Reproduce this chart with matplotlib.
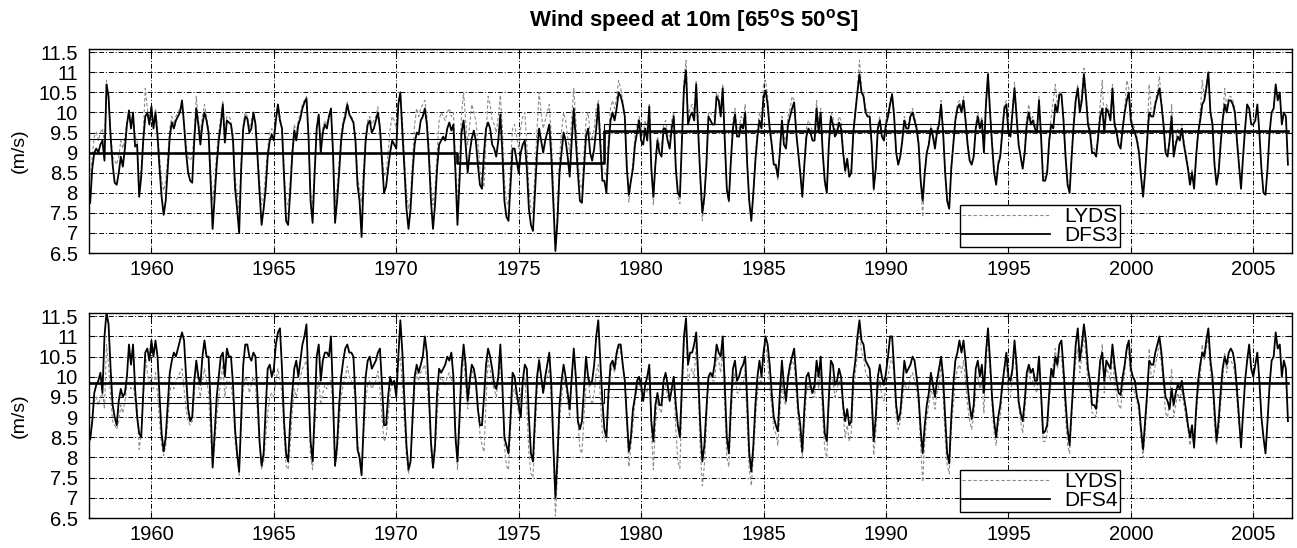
import matplotlib
matplotlib.use("Agg")
import matplotlib.pyplot as plt
import numpy as np

plt.rcParams['font.family'] = ['Liberation Sans', 'DejaVu Sans']
plt.rcParams['mathtext.fontset'] = 'custom'
plt.rcParams['mathtext.rm'] = 'Liberation Sans'
plt.rcParams['mathtext.bf'] = 'Liberation Sans:bold'

# monthly values, one row per year starting at mid-year (1957.5, 1958.5, ...)
dfs3 = [
    [7.75, 8.6, 9.0, 9.1, 9.0, 9.2, 9.3, 8.8, 10.7, 10.4, 9.4, 8.7],
    [8.25, 8.2, 8.5, 8.9, 8.65, 9.1, 9.7, 10.05, 9.6, 10.0, 9.15, 9.2],
    [7.9, 8.4, 9.3, 9.9, 10.0, 9.7, 10.15, 9.6, 10.0, 9.4, 8.6, 7.9],
    [7.45, 7.8, 8.6, 9.4, 9.75, 9.6, 9.8, 9.9, 10.0, 10.3, 9.7, 9.0],
    [8.5, 8.3, 8.25, 9.3, 10.1, 9.7, 9.2, 9.7, 10.0, 9.8, 9.5, 8.3],
    [7.1, 7.9, 8.7, 9.3, 9.7, 10.2, 9.25, 9.8, 9.75, 9.7, 9.3, 8.1],
    [7.6, 7.0, 8.6, 9.6, 9.9, 9.85, 9.5, 9.6, 10.0, 9.7, 8.9, 8.0],
    [7.2, 7.6, 8.1, 8.9, 9.3, 9.45, 9.3, 9.8, 10.2, 9.8, 9.6, 8.4],
    [7.3, 7.2, 8.0, 8.9, 9.55, 9.3, 9.7, 9.85, 10.1, 10.25, 10.35, 9.4],
    [7.8, 7.25, 8.5, 9.6, 9.95, 9.0, 9.5, 9.7, 9.6, 9.9, 10.1, 9.0],
    [7.25, 7.8, 8.5, 9.3, 9.7, 9.9, 10.2, 9.95, 9.85, 9.75, 9.3, 8.2],
    [7.8, 6.9, 8.3, 9.3, 9.7, 9.8, 9.5, 9.6, 9.8, 10.0, 9.6, 8.8],
    [8.0, 8.15, 8.6, 9.0, 9.3, 9.2, 9.1, 10.2, 10.5, 9.5, 8.6, 7.6],
    [7.1, 7.6, 8.5, 9.2, 9.5, 9.45, 9.8, 9.9, 10.1, 9.7, 8.9, 7.8],
    [7.1, 7.7, 8.6, 9.2, 9.3, 9.4, 9.3, 9.6, 9.75, 9.55, 9.7, 8.5],
    [7.2, 8.3, 9.5, 9.8, 9.2, 8.5, 9.0, 9.35, 9.55, 9.3, 8.7, 8.2],
    [8.1, 9.0, 9.6, 9.75, 9.6, 9.2, 9.1, 8.9, 9.3, 9.95, 9.0, 7.8],
    [7.4, 7.3, 8.2, 9.1, 9.1, 8.8, 8.5, 9.0, 9.2, 9.3, 8.6, 7.6],
    [7.2, 7.05, 8.0, 9.0, 9.6, 9.3, 9.0, 9.3, 9.5, 9.7, 8.9, 7.7],
    [6.55, 7.3, 8.5, 9.0, 9.5, 9.3, 8.9, 8.4, 9.3, 10.1, 9.3, 8.5],
    [7.8, 7.75, 8.6, 9.4, 9.6, 9.0, 8.8, 9.1, 9.6, 10.2, 9.2, 8.3],
    [8.3, 8.0, 9.1, 9.8, 10.0, 9.8, 10.1, 10.5, 10.4, 10.2, 9.9, 8.6],
    [7.95, 8.3, 8.6, 9.2, 9.5, 9.8, 9.3, 9.2, 9.6, 9.3, 10.15, 8.6],
    [7.9, 8.7, 9.3, 9.0, 8.9, 9.6, 9.6, 9.3, 9.1, 9.6, 9.9, 8.6],
    [8.0, 7.9, 9.3, 10.6, 11.05, 9.7, 9.9, 10.0, 9.8, 10.7, 9.5, 8.4],
    [7.5, 7.9, 8.7, 9.9, 9.8, 9.7, 9.7, 10.4, 10.3, 9.9, 10.6, 9.3],
    [8.1, 7.8, 8.8, 9.6, 9.95, 9.4, 9.4, 9.7, 9.6, 10.0, 8.7, 7.8],
    [7.3, 8.0, 8.8, 9.4, 9.8, 9.6, 10.4, 10.55, 10.2, 9.6, 9.2, 8.7],
    [8.7, 8.4, 9.0, 9.8, 9.2, 9.1, 9.7, 9.9, 10.1, 10.25, 9.5, 9.0],
    [8.5, 7.9, 8.7, 9.4, 9.6, 9.5, 9.3, 9.3, 10.1, 9.5, 10.0, 9.0],
    [8.3, 8.0, 9.2, 9.9, 9.7, 9.4, 9.5, 9.75, 9.6, 9.0, 8.55, 8.85],
    [8.4, 8.5, 9.5, 10.0, 10.5, 10.95, 10.5, 10.4, 10.0, 9.9, 9.9, 9.2],
    [8.1, 8.6, 9.6, 9.8, 9.4, 9.3, 9.7, 9.9, 10.2, 10.45, 9.9, 9.0],
    [8.7, 8.9, 9.3, 9.8, 9.6, 9.6, 9.9, 10.0, 9.8, 9.6, 9.2, 8.3],
    [7.8, 8.5, 9.0, 9.2, 9.6, 9.4, 9.1, 9.5, 9.7, 10.2, 9.5, 8.5],
    [7.8, 7.6, 8.6, 9.2, 9.8, 10.1, 10.2, 10.0, 10.3, 9.8, 9.2, 8.8],
    [8.7, 8.9, 9.6, 9.9, 9.6, 9.8, 9.0, 10.2, 10.95, 10.0, 9.2, 8.5],
    [8.2, 8.7, 8.9, 9.5, 10.1, 10.2, 9.5, 9.4, 10.0, 10.6, 9.9, 9.2],
    [8.9, 8.6, 9.0, 9.7, 10.0, 9.7, 9.8, 9.6, 9.5, 10.3, 9.4, 8.3],
    [8.3, 8.5, 9.3, 9.7, 9.6, 10.2, 10.0, 10.45, 10.45, 9.8, 8.9, 8.2],
    [8.0, 8.9, 9.7, 10.3, 10.6, 10.0, 10.3, 10.95, 10.4, 9.7, 9.5, 9.0],
    [9.0, 8.9, 9.4, 9.9, 10.1, 9.5, 10.1, 10.0, 9.8, 10.6, 9.7, 9.5],
    [9.2, 9.1, 9.6, 10.0, 10.3, 10.5, 9.8, 9.6, 9.5, 9.3, 9.0, 8.4],
    [7.9, 8.5, 9.3, 10.0, 9.9, 9.9, 10.2, 10.4, 10.6, 10.2, 9.7, 9.0],
    [8.9, 9.3, 9.9, 8.9, 9.2, 9.4, 9.3, 9.6, 9.2, 8.9, 8.6, 8.2],
    [8.5, 8.1, 8.9, 9.5, 9.8, 10.2, 10.3, 10.6, 11.0, 10.0, 9.7, 8.7],
    [8.2, 8.5, 9.2, 9.8, 10.2, 10.0, 10.3, 10.3, 10.2, 10.0, 9.3, 8.7],
    [8.1, 8.9, 9.6, 10.2, 10.1, 9.7, 9.7, 9.8, 10.2, 9.5, 8.6, 8.0],
    [7.95, 8.6, 9.5, 10.0, 10.1, 10.7, 10.3, 10.5, 9.7, 10.0, 9.9, 8.7],
]

dfs4 = [
    [8.45, 8.9, 9.6, 9.8, 9.9, 10.1, 9.6, 11.0, 11.6, 11.3, 10.2, 9.3],
    [9.0, 8.8, 9.4, 9.7, 9.5, 9.6, 10.0, 10.8, 10.3, 10.8, 9.7, 9.0],
    [8.6, 8.5, 9.6, 10.6, 10.7, 10.4, 10.9, 10.5, 10.9, 10.5, 9.5, 8.6],
    [8.15, 8.5, 9.3, 10.1, 10.4, 10.6, 10.5, 10.7, 10.9, 11.1, 10.9, 10.0],
    [9.2, 8.9, 9.0, 9.9, 10.4, 10.0, 9.8, 10.5, 10.9, 10.5, 10.5, 9.3],
    [7.75, 8.6, 9.5, 10.0, 10.5, 10.6, 10.0, 10.7, 10.5, 10.5, 9.8, 8.7],
    [8.1, 7.65, 9.0, 10.3, 10.8, 10.8, 10.5, 10.4, 10.6, 10.5, 9.5, 8.4],
    [7.8, 8.1, 9.2, 10.2, 10.3, 10.0, 10.2, 10.8, 11.1, 11.2, 10.2, 8.9],
    [8.1, 7.9, 8.9, 9.6, 10.2, 10.4, 10.0, 10.4, 10.8, 11.0, 11.3, 9.7],
    [8.4, 7.9, 9.1, 10.5, 10.8, 9.9, 10.4, 10.6, 10.6, 10.5, 11.0, 9.5],
    [7.8, 8.3, 9.3, 10.0, 10.4, 10.7, 10.8, 10.6, 10.6, 10.5, 9.5, 8.2],
    [8.0, 7.56, 8.8, 10.0, 10.4, 10.5, 10.2, 10.3, 10.4, 10.6, 10.7, 9.8],
    [8.8, 8.8, 9.5, 10.0, 9.8, 9.9, 9.5, 10.5, 11.4, 10.6, 9.4, 8.3],
    [7.7, 7.9, 9.0, 10.0, 10.3, 10.1, 10.3, 10.5, 11.0, 10.6, 9.6, 8.4],
    [7.75, 8.3, 9.6, 10.2, 10.1, 10.2, 10.3, 10.5, 10.4, 10.6, 10.0, 8.5],
    [7.9, 9.0, 10.2, 10.8, 10.3, 9.4, 9.9, 10.3, 10.2, 9.9, 9.2, 8.8],
    [8.8, 9.5, 10.3, 10.7, 10.5, 10.2, 9.8, 9.7, 10.0, 10.8, 9.8, 8.5],
    [8.3, 8.1, 9.0, 10.1, 10.0, 9.6, 9.3, 9.0, 9.9, 10.3, 10.2, 9.0],
    [8.1, 7.9, 9.0, 10.0, 10.4, 10.0, 9.6, 10.0, 10.3, 10.6, 9.8, 8.3],
    [7.0, 8.0, 9.3, 9.9, 10.3, 10.0, 9.6, 9.2, 10.0, 10.7, 10.0, 8.9],
    [8.7, 8.9, 9.7, 10.5, 10.0, 9.8, 9.9, 10.3, 11.0, 11.4, 10.4, 9.4],
    [8.7, 8.5, 9.6, 10.3, 10.4, 10.2, 10.6, 10.8, 10.8, 10.3, 9.9, 9.0],
    [8.15, 8.5, 9.2, 9.5, 9.9, 10.0, 9.8, 9.4, 9.8, 10.0, 10.3, 8.9],
    [8.4, 9.3, 9.6, 9.3, 9.3, 9.9, 10.1, 9.8, 9.4, 9.7, 10.0, 9.3],
    [8.8, 8.5, 9.8, 11.0, 11.45, 10.3, 10.6, 10.6, 10.8, 11.1, 10.0, 8.8],
    [7.9, 8.3, 9.2, 10.0, 10.1, 10.0, 10.3, 10.8, 10.6, 10.5, 11.0, 9.8],
    [8.5, 8.1, 9.3, 10.2, 10.4, 9.9, 10.0, 10.2, 10.3, 10.5, 9.4, 8.1],
    [7.65, 8.3, 9.3, 10.0, 10.4, 10.0, 10.6, 11.0, 10.8, 10.3, 9.6, 9.0],
    [8.8, 8.65, 9.6, 10.4, 9.8, 9.4, 10.0, 10.3, 10.5, 10.7, 10.0, 9.2],
    [8.8, 8.15, 9.2, 10.0, 10.1, 9.8, 9.6, 9.8, 10.4, 10.0, 10.5, 9.5],
    [8.6, 8.4, 9.5, 10.4, 10.3, 9.8, 9.9, 10.2, 10.0, 9.3, 8.9, 9.2],
    [8.8, 8.9, 10.0, 10.4, 11.0, 11.4, 10.9, 10.8, 10.4, 10.3, 10.2, 9.5],
    [8.4, 9.0, 10.0, 10.3, 10.0, 9.8, 10.1, 10.5, 11.0, 11.0, 10.2, 9.3],
    [8.9, 9.1, 9.7, 10.4, 10.1, 10.2, 10.3, 10.5, 10.4, 10.0, 9.5, 8.7],
    [8.1, 8.8, 9.3, 9.6, 10.1, 9.8, 9.5, 9.9, 10.2, 10.5, 10.0, 9.0],
    [8.1, 7.85, 9.0, 9.8, 10.4, 10.6, 10.9, 10.6, 10.9, 10.4, 9.8, 9.3],
    [8.95, 9.3, 10.2, 10.4, 10.0, 10.3, 9.6, 10.6, 11.2, 10.4, 9.5, 8.9],
    [8.5, 9.0, 9.3, 9.8, 10.2, 10.6, 10.0, 9.9, 10.2, 10.9, 10.3, 9.4],
    [9.1, 8.9, 9.4, 10.1, 10.3, 10.1, 10.2, 9.9, 9.9, 10.5, 9.6, 8.6],
    [8.65, 8.8, 9.6, 10.2, 10.0, 10.5, 10.3, 10.8, 10.9, 10.2, 9.4, 8.7],
    [8.3, 9.2, 10.0, 10.8, 11.2, 10.4, 10.8, 11.3, 10.9, 10.2, 9.9, 9.3],
    [9.3, 9.2, 9.8, 10.4, 10.6, 9.9, 10.4, 10.3, 10.2, 10.8, 10.3, 9.9],
    [9.6, 9.55, 10.0, 10.3, 10.7, 10.9, 10.2, 10.0, 9.9, 9.5, 9.3, 8.7],
    [8.2, 8.9, 9.6, 10.4, 10.3, 10.3, 10.6, 10.8, 11.0, 10.6, 10.0, 9.5],
    [9.4, 9.2, 9.7, 9.3, 9.6, 9.8, 9.7, 9.9, 9.5, 9.2, 8.8, 8.5],
    [8.8, 8.25, 9.2, 9.9, 10.3, 10.6, 10.5, 10.9, 11.2, 10.4, 10.0, 9.2],
    [8.4, 8.9, 9.6, 10.2, 10.5, 10.3, 10.6, 10.7, 10.6, 10.3, 9.7, 9.0],
    [8.25, 9.1, 9.9, 10.4, 10.8, 10.2, 10.0, 10.3, 10.6, 9.9, 9.0, 8.5],
    [8.1, 8.9, 9.8, 10.4, 10.5, 11.1, 10.7, 10.8, 10.0, 10.4, 10.2, 8.9],
]

lyds = [
    [8.4, 8.9, 9.4, 9.5, 9.3, 9.5, 9.6, 9.2, 10.8, 10.3, 9.5, 8.9],
    [8.8, 8.7, 8.9, 9.3, 9.1, 9.4, 9.8, 9.9, 9.7, 9.9, 9.4, 9.3],
    [8.2, 8.6, 9.5, 10.6, 10.1, 9.8, 10.0, 9.7, 10.1, 9.6, 8.9, 8.3],
    [8.05, 8.3, 8.9, 9.6, 9.9, 9.7, 9.9, 10.0, 10.1, 10.2, 9.7, 9.2],
    [8.9, 8.8, 8.9, 9.5, 10.4, 9.8, 9.5, 9.9, 10.2, 9.9, 9.6, 8.6],
    [7.8, 8.3, 9.0, 9.5, 9.9, 10.3, 9.5, 9.9, 9.9, 9.8, 9.4, 8.4],
    [8.0, 7.56, 8.8, 9.7, 10.0, 9.9, 9.6, 9.8, 10.0, 9.8, 9.1, 8.3],
    [7.7, 7.9, 8.5, 9.1, 9.5, 9.6, 9.5, 9.9, 10.2, 9.9, 9.6, 8.6],
    [7.8, 7.7, 8.3, 9.1, 9.7, 9.5, 9.8, 10.0, 10.2, 10.3, 10.4, 9.5],
    [8.0, 7.7, 8.7, 9.6, 9.9, 9.3, 9.6, 9.8, 9.7, 9.9, 9.9, 9.1],
    [7.75, 8.1, 8.8, 9.5, 9.8, 10.0, 10.26, 10.0, 9.9, 9.8, 9.4, 8.4],
    [8.1, 7.77, 8.6, 9.4, 9.8, 9.9, 9.7, 9.8, 9.9, 10.14, 9.7, 9.0],
    [8.4, 8.5, 9.0, 9.6, 9.9, 9.8, 9.6, 10.3, 10.5, 9.8, 8.9, 8.0],
    [7.6, 7.9, 8.8, 9.7, 10.1, 9.9, 10.1, 10.2, 10.3, 9.9, 9.2, 8.2],
    [7.7, 8.1, 9.0, 9.8, 10.0, 9.9, 9.8, 10.0, 10.1, 9.9, 10.0, 8.8],
    [7.7, 8.7, 10.0, 10.5, 9.8, 9.2, 9.7, 10.2, 10.0, 9.8, 9.3, 8.6],
    [8.3, 8.14, 9.4, 10.4, 10.2, 9.8, 9.7, 9.5, 9.9, 10.43, 9.6, 8.3],
    [7.8, 7.69, 8.7, 9.6, 9.7, 9.4, 9.1, 9.6, 9.9, 10.0, 9.2, 8.1],
    [7.6, 7.5, 8.6, 9.6, 10.5, 10.0, 9.6, 9.8, 10.0, 10.2, 9.4, 8.2],
    [6.55, 7.6, 8.9, 9.5, 10.0, 9.8, 9.4, 9.0, 9.9, 10.6, 9.8, 8.9],
    [8.2, 8.1, 9.0, 9.8, 10.0, 9.5, 9.3, 9.6, 10.1, 10.3, 9.5, 8.6],
    [8.5, 8.39, 9.4, 10.1, 10.3, 10.1, 10.4, 10.8, 10.6, 10.3, 9.9, 8.8],
    [7.77, 8.3, 8.8, 9.4, 9.7, 9.9, 9.6, 9.4, 9.8, 9.6, 10.2, 8.7],
    [7.7, 8.8, 9.4, 9.2, 9.1, 9.7, 9.8, 9.5, 9.4, 9.8, 10.0, 8.7],
    [7.9, 7.73, 9.4, 10.8, 11.3, 9.9, 10.1, 10.2, 10.0, 10.8, 9.6, 8.2],
    [7.3, 7.8, 8.8, 10.0, 10.0, 9.9, 9.9, 10.5, 10.4, 10.1, 10.7, 9.3],
    [8.0, 7.77, 8.9, 9.8, 10.1, 9.6, 9.6, 9.9, 9.8, 10.2, 8.8, 7.7],
    [7.3, 8.0, 8.9, 9.6, 10.0, 9.8, 10.7, 10.8, 10.4, 9.7, 9.3, 8.7],
    [8.6, 8.3, 9.1, 9.9, 9.4, 9.3, 9.9, 10.1, 10.4, 10.3, 9.6, 8.9],
    [8.4, 7.98, 8.8, 9.6, 9.8, 9.7, 9.5, 9.5, 10.3, 9.7, 10.1, 9.0],
    [8.2, 8.0, 9.3, 10.0, 9.9, 9.5, 9.7, 9.9, 9.8, 9.1, 8.5, 8.8],
    [8.4, 8.6, 9.6, 10.1, 10.6, 11.3, 10.6, 10.5, 10.1, 10.0, 10.0, 9.2],
    [8.06, 8.6, 9.7, 9.9, 9.5, 9.4, 9.8, 10.0, 10.3, 10.5, 10.0, 9.0],
    [8.7, 8.9, 9.4, 9.9, 9.7, 9.7, 10.0, 10.1, 9.9, 9.7, 9.3, 8.3],
    [7.4, 8.4, 9.0, 9.3, 9.7, 9.5, 9.2, 9.6, 9.8, 10.3, 9.6, 8.5],
    [7.8, 7.6, 8.7, 9.3, 9.9, 10.2, 10.3, 10.1, 10.4, 9.9, 9.3, 8.9],
    [8.7, 9.0, 9.7, 10.0, 9.7, 9.9, 9.1, 10.3, 11.0, 10.1, 9.3, 8.6],
    [8.3, 8.8, 9.0, 9.6, 10.2, 10.3, 9.6, 9.5, 10.1, 10.75, 10.0, 9.3],
    [8.9, 8.6, 9.1, 9.9, 10.2, 9.8, 9.9, 9.7, 9.6, 10.4, 9.5, 8.4],
    [8.4, 8.6, 9.4, 9.9, 10.3, 10.7, 10.2, 10.5, 10.5, 9.9, 9.0, 8.3],
    [8.1, 9.0, 9.8, 10.4, 10.7, 10.1, 10.5, 11.1, 10.5, 9.8, 9.6, 9.1],
    [9.1, 9.0, 9.5, 10.2, 10.8, 9.6, 10.2, 10.1, 9.9, 10.7, 9.8, 9.6],
    [9.3, 9.2, 9.7, 10.1, 10.8, 10.6, 9.9, 9.7, 9.6, 9.4, 9.1, 8.5],
    [8.0, 8.6, 9.4, 10.7, 10.0, 10.0, 10.3, 10.5, 10.9, 10.3, 9.8, 9.1],
    [9.0, 9.4, 10.2, 9.0, 9.3, 9.6, 9.4, 9.7, 9.3, 9.0, 8.7, 8.3],
    [8.6, 8.2, 9.0, 9.6, 10.0, 10.8, 10.4, 10.7, 11.0, 10.1, 9.8, 8.8],
    [8.3, 8.6, 9.3, 9.9, 10.6, 10.1, 10.4, 10.4, 10.3, 10.1, 9.4, 8.8],
]

# period means drawn as steps
dfs3_mean_t = [1957.5, 1972.5, 1978.5, 2006.42]
dfs3_mean_v = [9.0, 8.73, 9.53, 9.53]
dfs4_mean_t = [1957.5, 2006.42]
dfs4_mean_v = [9.85, 9.85]
lyds_mean_t = [1957.5, 1978.5, 2004.42]
lyds_mean_v = [9.34, 9.70, 9.70]

t0 = 1957.5
years = list(range(1960, 2006, 5))
yticks = [6.5 + 0.5 * k for k in range(11)]


def monthly(rows):
    v = np.array(rows, dtype=float).ravel()
    t = t0 + np.arange(len(v)) / 12.0
    return t, v


fig = plt.figure(figsize=(12.97, 5.48), dpi=100)
ax1 = fig.add_axes([0.0686, 0.5383, 0.9275, 0.3723])
ax2 = fig.add_axes([0.0686, 0.0547, 0.9275, 0.3741])

grid_ls = (0, (5, 2, 1, 2))
for ax, dfs, name, mt, mv in [(ax1, dfs3, 'DFS3', dfs3_mean_t, dfs3_mean_v),
                              (ax2, dfs4, 'DFS4', dfs4_mean_t, dfs4_mean_v)]:
    tl, vl = monthly(lyds)
    td, vd = monthly(dfs)
    ax.plot(tl, vl, color='#8c8c8c', lw=0.8, ls=(0, (3, 2)), label='LYDS', zorder=3)
    ax.plot(td, vd, color='black', lw=1.3, label=name, zorder=4)
    ax.plot(lyds_mean_t, lyds_mean_v, color='black', lw=0.8, drawstyle='steps-post', zorder=4)
    ax.plot(mt, mv, color='black', lw=1.9, drawstyle='steps-post', zorder=5)

    ax.set_xlim(1957.45, 2006.58)
    ax.set_ylim(6.5, 11.58)
    ax.set_xticks(years)
    ax.set_yticks(yticks)
    ax.set_yticklabels([f"{y:g}" for y in yticks])
    ax.grid(True, color='black', lw=0.7, ls=grid_ls, zorder=1)
    ax.tick_params(direction='in', length=4, top=True, right=True, labelsize=14.5)
    ax.tick_params(axis='y', pad=8)
    ax.tick_params(axis='x', pad=5)
    for s in ax.spines.values():
        s.set_linewidth(1.0)
    ax.set_ylabel('(m/s)', fontsize=14, labelpad=8)
    leg = ax.legend(loc='lower right', bbox_to_anchor=(0.857, 0.028), fontsize=15,
                    frameon=True, fancybox=False, framealpha=1, edgecolor='black',
                    handlelength=4.2, handletextpad=0.7, labelspacing=0.0,
                    borderpad=0.1, borderaxespad=0)
    leg.get_frame().set_linewidth(1.0)

fig.text(0.535, 0.962, r'Wind speed at 10m [65$^{\mathbf{o}}$S 50$^{\mathbf{o}}$S]',
         ha='center', va='center', fontsize=16, fontweight='bold')

fig.savefig('out.png', dpi=100)
